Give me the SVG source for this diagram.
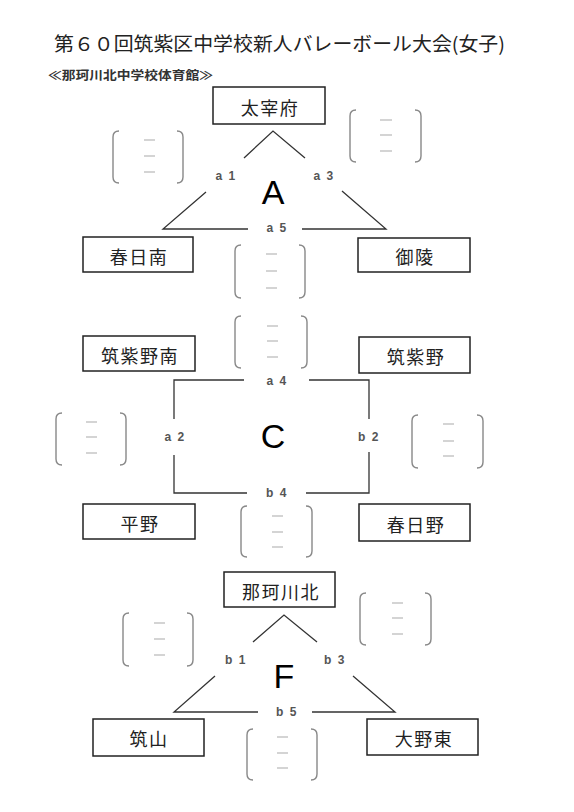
<svg xmlns="http://www.w3.org/2000/svg" width="574" height="812" viewBox="0 0 574 812">
<style>
.bg{fill:#fff}
.box{fill:#fff;stroke:#222;stroke-width:1.5}
.nm{font-family:"Noto Sans CJK JP","Noto Sans CJK SC",sans-serif;font-size:18px;fill:#222;text-anchor:middle;letter-spacing:1.5px}
.ln{fill:none;stroke:#333;stroke-width:1.3}
.lb{font-family:"Liberation Sans",Arial,sans-serif;font-size:12px;font-weight:bold;fill:#555;text-anchor:middle;letter-spacing:1.5px}
.big{font-family:"Liberation Sans",Arial,sans-serif;font-size:34px;fill:#000;text-anchor:middle}
.br{fill:none;stroke:#888;stroke-width:1.4}
.ds{stroke:#aaa;stroke-width:1.2}
</style>
<rect class="bg" x="0" y="0" width="574" height="812"/>
<text x="54" y="51" font-family="'Noto Sans CJK JP','Noto Sans CJK SC',sans-serif" font-size="19" fill="#222" textLength="451" lengthAdjust="spacingAndGlyphs">第６０回筑紫区中学校新人バレーボール大会(女子)</text>
<text x="48" y="80" font-family="'Noto Sans CJK JP','Noto Sans CJK SC',sans-serif" font-size="12" font-weight="bold" fill="#333" textLength="165" lengthAdjust="spacingAndGlyphs">≪那珂川北中学校体育館≫</text>

<g id="connectors">
<path class="ln" d="M244,158 L273,131 L305,158"/>
<path class="ln" d="M206,192 L163,229 H248"/>
<path class="ln" d="M302,229 H386 L342,191"/>
<path class="ln" d="M244,380 H174 V419"/>
<path class="ln" d="M174,455 V493 H247"/>
<path class="ln" d="M306,493 H369 V452"/>
<path class="ln" d="M369,419 V380 H309"/>
<path class="ln" d="M253,642 L284,615 L317,642"/>
<path class="ln" d="M215,676 L174,712 H258"/>
<path class="ln" d="M312,712 H395 L353,676"/>
</g>

<g id="labels">
<text class="lb" x="226" y="180">a 1</text>
<text class="lb" x="324" y="180">a 3</text>
<text class="lb" x="277" y="232">a 5</text>
<text class="big" x="273" y="204">A</text>
<text class="lb" x="277" y="385">a 4</text>
<text class="lb" x="175" y="441">a 2</text>
<text class="lb" x="369" y="441">b 2</text>
<text class="lb" x="277" y="497">b 4</text>
<text class="big" x="273" y="448">C</text>
<text class="lb" x="236" y="664">b 1</text>
<text class="lb" x="335" y="664">b 3</text>
<text class="lb" x="287" y="716">b 5</text>
<text class="big" x="284" y="688">F</text>
</g>

<g id="node-dazaifu"><rect class="box" x="213" y="87" width="112" height="37"/><text class="nm" x="270" y="115">太宰府</text></g>
<g id="node-kasugaminami"><rect class="box" x="83" y="237" width="110" height="35"/><text class="nm" x="139" y="264">春日南</text></g>
<g id="node-goryo"><rect class="box" x="358" y="238" width="112" height="34"/><text class="nm" x="415" y="264">御陵</text></g>
<g id="node-chikushinominami"><rect class="box" x="83" y="336" width="112" height="35"/><text class="nm" x="140" y="363">筑紫野南</text></g>
<g id="node-chikushino"><rect class="box" x="359" y="337" width="111" height="36"/><text class="nm" x="416" y="364">筑紫野</text></g>
<g id="node-hirano"><rect class="box" x="83" y="504" width="112" height="35"/><text class="nm" x="140" y="531">平野</text></g>
<g id="node-kasugano"><rect class="box" x="359" y="504" width="111" height="37"/><text class="nm" x="416" y="532">春日野</text></g>
<g id="node-nakagawakita"><rect class="box" x="224" y="572" width="111" height="35"/><text class="nm" x="281" y="599">那珂川北</text></g>
<g id="node-chikuzan"><rect class="box" x="93" y="719" width="111" height="37"/><text class="nm" x="149" y="746">筑山</text></g>
<g id="node-onohigashi"><rect class="box" x="367" y="719" width="111" height="36"/><text class="nm" x="424" y="746">大野東</text></g>

<g id="score-a1"><path class="br" d="M119,131 Q113,131 113,137 V177 Q113,183 119,183 M177,131 Q183,131 183,137 V177 Q183,183 177,183"/><path class="ds" d="M144,140 h11 M144,156 h11 M144,172 h11"/></g>
<g id="score-a3"><path class="br" d="M356,110 Q350,110 350,116 V156 Q350,162 356,162 M415,110 Q421,110 421,116 V156 Q421,162 415,162"/><path class="ds" d="M380,120 h12 M380,135 h12 M380,151 h12"/></g>
<g id="score-a5"><path class="br" d="M241,245 Q235,245 235,251 V292 Q235,298 241,298 M299,245 Q305,245 305,251 V292 Q305,298 299,298"/><path class="ds" d="M266,254 h11 M266,271 h11 M266,288 h11"/></g>
<g id="score-a4"><path class="br" d="M241,316 Q235,316 235,322 V362 Q235,368 241,368 M301,316 Q307,316 307,322 V362 Q307,368 301,368"/><path class="ds" d="M267,326 h11 M267,341 h11 M267,357 h11"/></g>
<g id="score-a2"><path class="br" d="M62,413 Q56,413 56,419 V459 Q56,465 62,465 M120,413 Q126,413 126,419 V459 Q126,465 120,465"/><path class="ds" d="M86,422 h11 M86,437 h11 M86,453 h11"/></g>
<g id="score-b2"><path class="br" d="M418,415 Q412,415 412,421 V462 Q412,468 418,468 M477,415 Q483,415 483,421 V462 Q483,468 477,468"/><path class="ds" d="M443,424 h11 M443,441 h11 M443,456 h11"/></g>
<g id="score-b4"><path class="br" d="M247,506 Q241,506 241,512 V551 Q241,557 247,557 M306,506 Q312,506 312,512 V551 Q312,557 306,557"/><path class="ds" d="M272,516 h11 M272,532 h11 M272,547 h11"/></g>
<g id="score-b1"><path class="br" d="M129,613 Q123,613 123,619 V660 Q123,666 129,666 M187,613 Q193,613 193,619 V660 Q193,666 187,666"/><path class="ds" d="M154,623 h11 M154,639 h11 M154,655 h11"/></g>
<g id="score-b3"><path class="br" d="M366,593 Q360,593 360,599 V639 Q360,645 366,645 M425,593 Q431,593 431,599 V639 Q431,645 425,645"/><path class="ds" d="M392,603 h11 M392,618 h11 M392,634 h11"/></g>
<g id="score-b5"><path class="br" d="M253,729 Q247,729 247,735 V774 Q247,780 253,780 M311,729 Q317,729 317,735 V774 Q317,780 311,780"/><path class="ds" d="M277,737 h11 M277,753 h11 M277,768 h11"/></g>
</svg>
